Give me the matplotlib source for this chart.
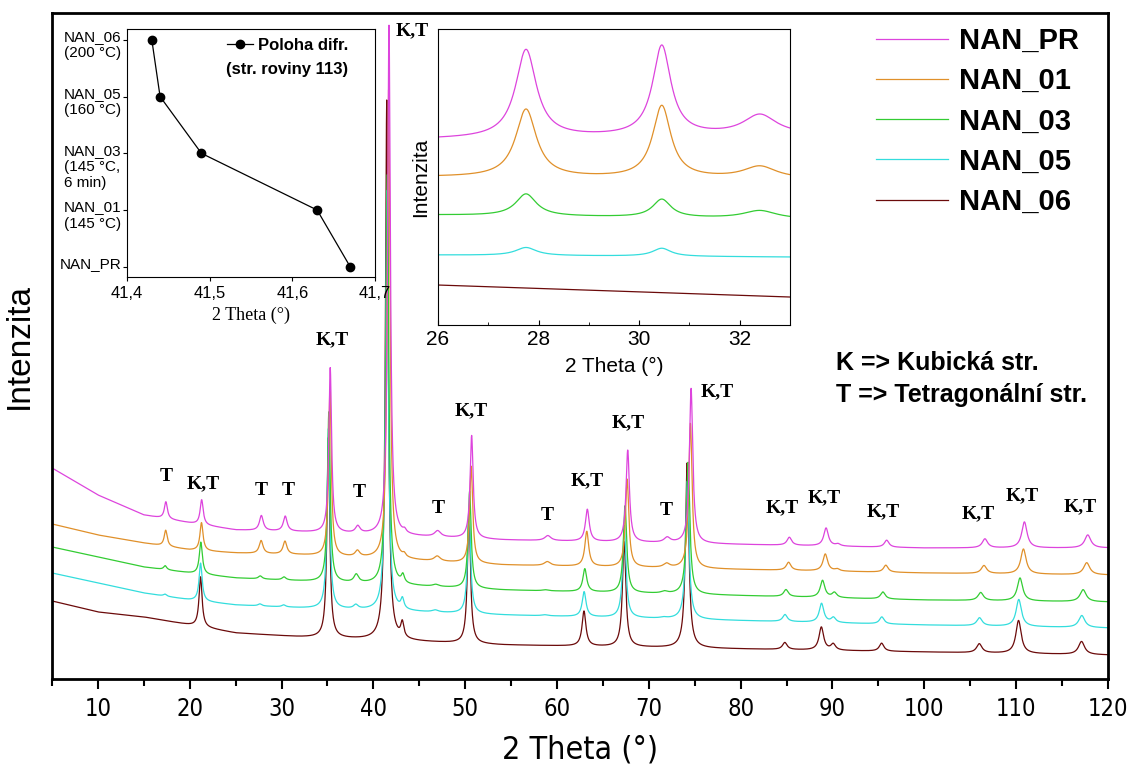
import numpy as np
import matplotlib
matplotlib.use("Agg")
import matplotlib.pyplot as plt
from matplotlib import font_manager as fm
from matplotlib.ticker import MultipleLocator, FixedLocator

# samples (bottom curve last)
samples = ["NAN_PR", "NAN_01", "NAN_03", "NAN_05", "NAN_06"]
colors = ["#dd44dd", "#e0902a", "#33cc33", "#33dddd", "#6b0a0a"]

# background levels (arbitrary intensity units)
base_x = [5, 10, 15, 20, 25, 32, 54, 100, 120]
base_pr = [211, 184, 164, 156, 149, 147, 139, 131, 131]
base_01 = [155, 144, 136, 129, 126, 124, 114, 106, 104]
base_03 = [132, 122, 112, 106, 101, 98, 89, 79, 77]
base_05 = [106, 96, 86, 79, 74, 71, 64, 54, 51]
base_06 = [78, 67, 62, 54, 46, 42, 34, 27, 24]

# reflections (positions for NAN_PR) and half widths
peak_pos = [17.4, 21.3, 27.8, 30.4, 35.3, 38.3, 41.7, 43.4, 47.0, 50.7, 59.0,
            63.3, 67.7, 72.0, 74.6, 85.3, 89.3, 90.6, 95.9, 106.6, 110.9, 117.8]
peak_hw = [0.2, 0.2, 0.25, 0.25, 0.18, 0.3, 0.18, 0.2, 0.4, 0.2, 0.4,
           0.25, 0.22, 0.4, 0.22, 0.3, 0.3, 0.3, 0.3, 0.35, 0.35, 0.4]
h_pr = [17, 25, 15, 15, 165, 7, 510, 3, 6, 103, 5, 32, 92, 5, 155, 8, 18, 2, 7, 9, 26, 13]
h_01 = [16, 28, 13, 13, 165, 6, 470, 3, 5, 97, 4, 35, 88, 4, 145, 8, 17, 2, 7, 8, 25, 12]
h_03 = [4, 32, 3, 3, 170, 8, 410, 8, 2, 97, 1, 23, 87, 2, 132, 7, 17, 5, 7, 8, 23, 12]
h_05 = [2, 38, 2, 2, 180, 4, 420, 10, 2, 102, 1, 25, 92, 1, 138, 7, 19, 5, 7, 8, 27, 12]
h_06 = [0, 50, 0, 0, 200, 0, 540, 15, 0, 130, 0, 35, 105, 0, 185, 7, 23, 6, 8, 9, 33, 13]

# position of the (113) reflection, inset 1
pos113 = [41.67, 41.63, 41.49, 41.44, 41.43]
inset1_labels = ["NAN_PR", "NAN_01\n(145 °C)", "NAN_03\n(145 °C,\n6 min)",
                 "NAN_05\n(160 °C)", "NAN_06\n(200 °C)"]

# peak labels
lab_x = [17.4, 21.5, 27.8, 30.7, 35.5, 38.4, 44.2, 47.1, 50.7, 58.9, 63.3,
         67.7, 71.9, 77.4, 84.5, 89.1, 95.5, 105.9, 110.7, 117.0]
lab_y = [202, 195, 188, 188, 339, 186, 648, 170, 268, 163, 198,
         256, 168, 287, 171, 181, 167, 165, 183, 172]
lab_t = ["T", "K,T", "T", "T", "K,T", "T", "K,T", "T", "K,T", "T", "K,T",
         "K,T", "T", "K,T", "K,T", "K,T", "K,T", "K,T", "K,T", "K,T"]

# inset 2 (26-33 deg detail)
in2_pos = [27.75, 30.45, 32.4]
in2_hw = [0.25, 0.22, 0.4]
in2_h = [[88, 90, 20], [68, 72, 12], [22, 18, 8], [8, 8, 0], [0, 0, 0]]
in2_off26 = [186, 148, 110, 70, 40]
in2_off33 = [190, 146, 106, 68, 28]

bases = [base_pr, base_01, base_03, base_05, base_06]
heights = [h_pr, h_01, h_03, h_05, h_06]

SANS = ["Liberation Sans", "DejaVu Sans"]
SERIF = ["Liberation Serif", "DejaVu Serif"]

# narrow font for the main axis texts, if there is one
narrow = fm.FontProperties(family="DejaVu Sans", stretch="condensed")
if "Condensed" in fm.findfont(narrow):
    NARROW = dict(family="DejaVu Sans", stretch="condensed")
else:
    NARROW = dict(family=SANS)


def lorentz(x, p, w, h):
    return h * w ** 2 / ((x - p) ** 2 + w ** 2)


fig = plt.figure(figsize=(11.33, 7.68), dpi=100)
ax = fig.add_axes([0.0459, 0.1159, 0.932, 0.8672])

x = np.linspace(5, 120, 9000)
for i in reversed(range(len(samples))):
    k = pos113[i] / pos113[0]
    y = np.interp(x, base_x, bases[i])
    for p, w, h in zip(peak_pos, peak_hw, heights[i]):
        y = y + lorentz(x, p * k, w, h)
    ax.plot(x, y, color=colors[i], lw=0.9, label=samples[i])

for tx, ty, t in zip(lab_x, lab_y, lab_t):
    ax.text(tx, ty, t, ha="center", va="center", fontsize=14,
            fontweight="bold", family=SERIF)

ax.set_xlim(5, 120)
ax.set_ylim(0, 666)
ax.set_yticks([])
ax.xaxis.set_major_locator(FixedLocator(range(10, 121, 10)))
ax.xaxis.set_minor_locator(MultipleLocator(5))
ax.tick_params(axis="x", which="major", length=7, width=1.5, labelsize=17, pad=6)
ax.tick_params(axis="x", which="minor", length=5, width=1.5)
for lbl in ax.get_xticklabels():
    lbl.set(**NARROW)
for s in ax.spines.values():
    s.set_linewidth(2)
ax.set_xlabel("2 Theta (°)", fontsize=23, labelpad=10, **NARROW)
ax.set_ylabel("Intenzita", fontsize=24, family=SANS, labelpad=12)

handles, labels = ax.get_legend_handles_labels()
leg = ax.legend(handles[::-1], labels[::-1], loc="upper left",
                bbox_to_anchor=(0.755, 1.0185), frameon=False,
                handlelength=2.5, labelspacing=0.42, handletextpad=0.35,
                prop={"family": SANS, "weight": "bold", "size": 21})

ax.text(0.742, 0.474, "K => Kubická str.", transform=ax.transAxes,
        fontsize=18, fontweight="bold", family=SANS, va="center")
ax.text(0.742, 0.426, "T => Tetragonální str.", transform=ax.transAxes,
        fontsize=18, fontweight="bold", family=SANS, va="center")

# inset 1: peak position
ax1 = fig.add_axes([0.1121, 0.6393, 0.2189, 0.3229])
ypos = list(range(len(samples)))
ax1.plot(pos113, ypos, color="black", lw=0.9, marker="o", ms=6,
         label="Poloha difr.")
ax1.set_xlim(41.4, 41.7)
ax1.set_ylim(-0.18, 4.19)
ax1.set_xticks([41.4, 41.5, 41.6, 41.7])
ax1.set_xticklabels(["41,4", "41,5", "41,6", "41,7"], family=SANS)
ax1.set_yticks(ypos)
ax1.set_yticklabels([])
for yp, txt in zip(ypos, inset1_labels):
    ax1.annotate(txt, xy=(0, yp), xycoords=ax1.get_yaxis_transform(),
                 xytext=(-4, 7), textcoords="offset points", ha="right",
                 va="top", multialignment="left", fontsize=11,
                 family=SANS, linespacing=1.2)
ax1.tick_params(labelsize=12, length=3)
ax1.set_xlabel("2 Theta (°)", fontsize=13, family=SERIF, labelpad=4)
ax1.legend(loc="upper right", bbox_to_anchor=(0.92, 0.99), frameon=False,
           handlelength=1.6, handletextpad=0.3, borderaxespad=0,
           prop={"family": SANS, "weight": "bold", "size": 12})
ax1.text(0.89, 0.835, "(str. roviny 113)", transform=ax1.transAxes,
         ha="right", va="center", fontsize=12, fontweight="bold", family=SANS)

# inset 2: detail 26-33 deg
ax2 = fig.add_axes([0.3866, 0.5768, 0.3107, 0.3854])
x2 = np.linspace(26, 33, 1200)
for i in reversed(range(len(samples))):
    y2 = np.interp(x2, [26, 33], [in2_off26[i], in2_off33[i]])
    for p, w, h in zip(in2_pos, in2_hw, in2_h[i]):
        y2 = y2 + lorentz(x2, p, w, h)
    ax2.plot(x2, y2, color=colors[i], lw=0.9)
ax2.set_xlim(26, 33)
ax2.set_ylim(0, 296)
ax2.set_yticks([])
ax2.xaxis.set_major_locator(FixedLocator([26, 28, 30, 32]))
ax2.xaxis.set_minor_locator(MultipleLocator(1))
ax2.tick_params(axis="x", which="both", direction="in", labelsize=15)
for lbl in ax2.get_xticklabels():
    lbl.set_family(SANS)
ax2.set_xlabel("2 Theta (°)", fontsize=15, family=SANS, labelpad=6)
ax2.set_ylabel("Intenzita", fontsize=15, family=SANS, labelpad=6)

fig.savefig("out.png", dpi=100)
